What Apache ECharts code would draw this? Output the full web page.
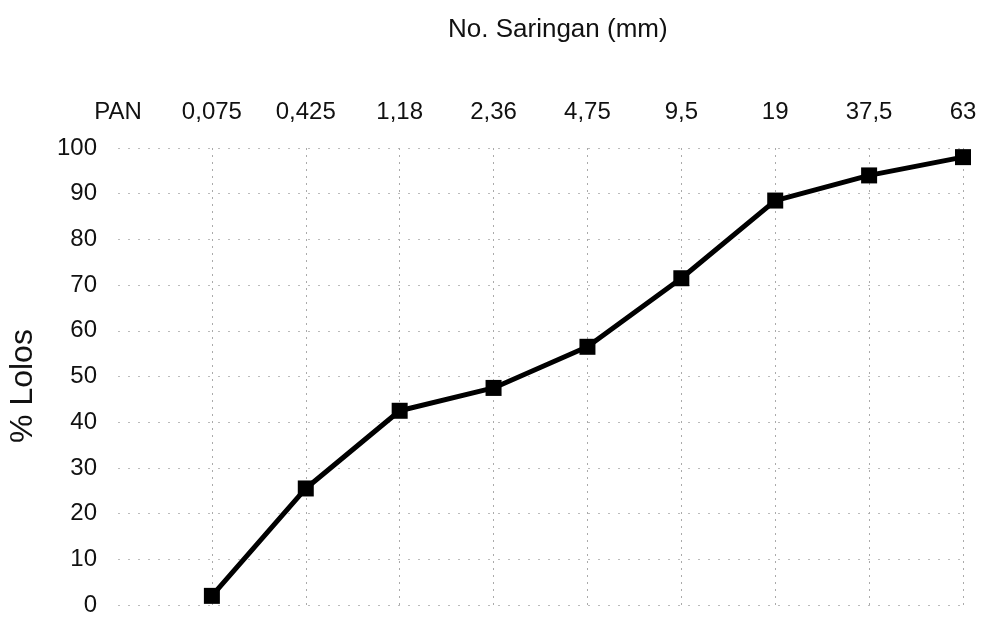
<!DOCTYPE html>
<html>
<head>
<meta charset="utf-8">
<script src="https://cdn.jsdelivr.net/npm/echarts@6/dist/echarts.min.js"></script>
<style>
html,body{margin:0;padding:0;background:#fff;}
#c{width:985px;height:617px;}
</style>
</head>
<body>
<div id="c"></div>
<script>
const categories = ['PAN', '0,075', '0,425', '1,18', '2,36', '4,75', '9,5', '19', '37,5', '63'];
const lolos = [null, 2, 25.5, 42.5, 47.5, 56.5, 71.5, 88.5, 94, 98];
const yTicks = [0, 100, 10];
const titleText = 'No. Saringan (mm)';
const yName = '% Lolos';

const FONT = '"Liberation Sans", Arial, sans-serif';
const chart = echarts.init(document.getElementById('c'), null, {renderer: 'canvas'});
chart.setOption({
  backgroundColor: '#fff',
  animation: false,
  title: {
    text: titleText,
    left: 443,
    top: 12,
    textStyle: {fontFamily: FONT, fontSize: 26, fontWeight: 'normal', color: '#111'}
  },
  graphic: [{
    type: 'text',
    x: 23,
    y: 386,
    rotation: Math.PI / 2,
    style: {
      text: yName,
      fontFamily: FONT,
      fontSize: 32,
      fill: '#111',
      align: 'center',
      verticalAlign: 'middle'
    }
  }],
  grid: {left: 118, right: 22, top: 148, bottom: 11, containLabel: false},
  xAxis: {
    type: 'category',
    position: 'top',
    data: categories,
    boundaryGap: false,
    axisLine: {show: false},
    axisTick: {show: false},
    axisLabel: {fontFamily: FONT, fontSize: 24, color: '#111', margin: 24},
    splitLine: {
      show: true,
      interval: function (index) { return index > 0; },
      lineStyle: {color: '#aaa', width: 1, type: [2, 5]}
    }
  },
  yAxis: {
    type: 'value',
    min: yTicks[0],
    max: yTicks[1],
    interval: yTicks[2],
    axisLine: {show: false},
    axisTick: {show: false},
    axisLabel: {fontFamily: FONT, fontSize: 24, color: '#111', margin: 21},
    splitLine: {show: true, lineStyle: {color: '#bbb', width: 1, type: [2, 8]}}
  },
  series: [{
    type: 'line',
    data: lolos,
    connectNulls: false,
    symbol: 'rect',
    symbolSize: 16,
    itemStyle: {color: '#000'},
    lineStyle: {color: '#000', width: 5}
  }]
});
</script>
</body>
</html>
